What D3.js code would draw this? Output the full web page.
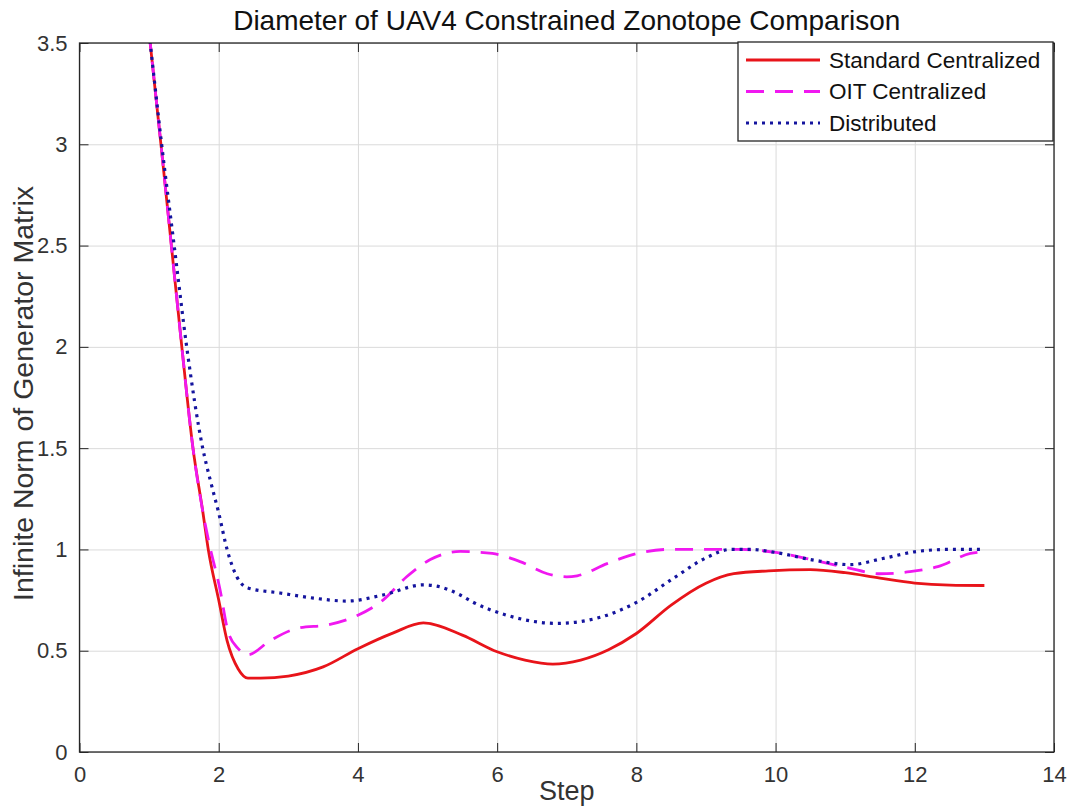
<!DOCTYPE html>
<html>
<head>
<meta charset="utf-8">
<script src="https://cdn.jsdelivr.net/npm/d3@7"></script>
<style>
  body { margin: 0; background: #ffffff; }
  svg { display: block; }
</style>
</head>
<body>
<script>
// -----------------------------
// Data
// -----------------------------

const xTicks = [0, 2, 4, 6, 8, 10, 12, 14];
const yTicks = [0, 0.5, 1, 1.5, 2, 2.5, 3, 3.5];

const seriesNames = ["Standard Centralized", "OIT Centralized", "Distributed"];

// Standard Centralized
const stdSteps = [1.0, 1.17, 1.32, 1.47, 1.63, 1.77, 1.85, 2.0, 2.12, 2.28, 2.42, 2.6, 3.0, 3.5, 4.0, 4.5, 4.94, 5.5, 6.0, 6.4, 6.8, 7.2, 7.6, 8.0, 8.5, 9.0, 9.4, 9.9, 10.5, 11.0, 11.5, 12.0, 12.5, 13.0];
const stdValues = [3.55, 3.0, 2.5, 2.0, 1.5, 1.19, 1.0, 0.75, 0.55, 0.41, 0.365, 0.365, 0.375, 0.42, 0.51, 0.587, 0.637, 0.577, 0.495, 0.454, 0.434, 0.454, 0.505, 0.585, 0.725, 0.833, 0.88, 0.894, 0.9, 0.885, 0.858, 0.834, 0.824, 0.822];

// OIT Centralized
const oitSteps = [1.0, 1.17, 1.32, 1.47, 1.63, 1.77, 1.85, 2.02, 2.13, 2.28, 2.42, 2.74, 3.12, 3.6, 4.0, 4.36, 4.7, 5.04, 5.47, 5.93, 6.33, 6.72, 7.0, 7.15, 7.58, 8.01, 8.44, 9.0, 9.5, 10.0, 10.55, 11.03, 11.5, 11.93, 12.33, 12.8, 13.0];
const oitValues = [3.55, 3.0, 2.5, 2.0, 1.5, 1.19, 1.05, 0.8, 0.6, 0.51, 0.48, 0.55, 0.61, 0.63, 0.675, 0.75, 0.865, 0.95, 0.99, 0.98, 0.94, 0.88, 0.865, 0.87, 0.93, 0.98, 1.0, 1.0, 1.0, 0.985, 0.947, 0.91, 0.88, 0.89, 0.915, 0.98, 0.99];

// Distributed
const distSteps = [1.0, 1.18, 1.36, 1.54, 1.77, 1.88, 2.0, 2.12, 2.26, 2.42, 2.88, 3.36, 3.84, 4.36, 4.94, 5.18, 5.47, 5.65, 6.14, 6.86, 7.48, 8.01, 8.53, 9.01, 9.35, 9.63, 10.0, 10.55, 11.07, 11.54, 12.03, 12.5, 13.0];
const distValues = [3.55, 3.0, 2.5, 2.0, 1.5, 1.34, 1.18, 1.0, 0.865, 0.81, 0.785, 0.76, 0.745, 0.775, 0.825, 0.815, 0.775, 0.74, 0.675, 0.635, 0.665, 0.74, 0.857, 0.96, 1.0, 1.0, 0.985, 0.947, 0.925, 0.955, 0.99, 1.0, 1.0];

// -----------------------------
// SVG Setup
// -----------------------------

const WIDTH = 1076;
const HEIGHT = 807;

const PLOT = { left: 79.5, right: 1054, top: 43, bottom: 752 };
const FONT = "'Liberation Sans', Arial, Helvetica, sans-serif";
const AXIS_COLOR = "#262626";
const TEXT_COLOR = "#333333";
const GRID_COLOR = "#dadada";
const TICK_LEN = 9;

const svg = d3.select("body")
  .append("svg")
  .attr("width", WIDTH)
  .attr("height", HEIGHT)
  .attr("viewBox", `0 0 ${WIDTH} ${HEIGHT}`)
  .style("background-color", "#ffffff");

const x = d3.scaleLinear()
  .domain([0, 14])
  .range([PLOT.left, PLOT.right]);

const y = d3.scaleLinear()
  .domain([0, 3.5])
  .range([PLOT.bottom, PLOT.top]);

const plotW = PLOT.right - PLOT.left;
const plotH = PLOT.bottom - PLOT.top;

// -----------------------------
// Grid
// -----------------------------

const gridX = svg.append("g")
  .attr("transform", `translate(0, ${PLOT.bottom})`)
  .call(d3.axisBottom(x).tickValues(xTicks).tickSize(-plotH).tickFormat(""));
gridX.select(".domain").remove();
gridX.selectAll(".tick line").attr("stroke", GRID_COLOR).attr("stroke-width", 1);

const gridY = svg.append("g")
  .attr("transform", `translate(${PLOT.left}, 0)`)
  .call(d3.axisLeft(y).tickValues(yTicks).tickSize(-plotW).tickFormat(""));
gridY.select(".domain").remove();
gridY.selectAll(".tick line").attr("stroke", GRID_COLOR).attr("stroke-width", 1);

// -----------------------------
// Lines
// -----------------------------

svg.append("defs")
  .append("clipPath")
  .attr("id", "plot-clip")
  .append("rect")
  .attr("x", PLOT.left)
  .attr("y", PLOT.top)
  .attr("width", plotW)
  .attr("height", plotH);

const series = [
  { name: seriesNames[0], steps: stdSteps, values: stdValues, color: "#e8141a", dash: null, width: 2.8 },
  { name: seriesNames[1], steps: oitSteps, values: oitValues, color: "#f018f0", dash: "18,11", width: 2.8 },
  { name: seriesNames[2], steps: distSteps, values: distValues, color: "#14149e", dash: "3,5", width: 3.2 }
];

const line = d3.line()
  .x(d => x(d[0]))
  .y(d => y(d[1]))
  .curve(d3.curveMonotoneX);

const lineGroup = svg.append("g").attr("clip-path", "url(#plot-clip)");

series.forEach(s => {
  lineGroup.append("path")
    .datum(d3.zip(s.steps, s.values))
    .attr("fill", "none")
    .attr("stroke", s.color)
    .attr("stroke-width", s.width)
    .attr("stroke-dasharray", s.dash)
    .attr("d", line);
});

// -----------------------------
// Axes (box with inward ticks)
// -----------------------------

function styleAxis(g) {
  g.select(".domain").remove();
  g.selectAll(".tick line").attr("stroke", AXIS_COLOR);
  g.selectAll(".tick text")
    .attr("fill", TEXT_COLOR)
    .style("font-family", FONT)
    .style("font-size", "22px");
}

svg.append("g")
  .attr("transform", `translate(0, ${PLOT.bottom})`)
  .call(d3.axisBottom(x).tickValues(xTicks).tickSizeInner(-TICK_LEN).tickSizeOuter(0).tickPadding(14).tickFormat(d3.format("~g")))
  .call(styleAxis);

svg.append("g")
  .attr("transform", `translate(0, ${PLOT.top})`)
  .call(d3.axisTop(x).tickValues(xTicks).tickSizeInner(-TICK_LEN).tickSizeOuter(0).tickFormat(""))
  .call(styleAxis);

svg.append("g")
  .attr("transform", `translate(${PLOT.left}, 0)`)
  .call(d3.axisLeft(y).tickValues(yTicks).tickSizeInner(-TICK_LEN).tickSizeOuter(0).tickPadding(12).tickFormat(d3.format("~g")))
  .call(styleAxis);

svg.append("g")
  .attr("transform", `translate(${PLOT.right}, 0)`)
  .call(d3.axisRight(y).tickValues(yTicks).tickSizeInner(-TICK_LEN).tickSizeOuter(0).tickFormat(""))
  .call(styleAxis);

svg.append("rect")
  .attr("x", PLOT.left)
  .attr("y", PLOT.top)
  .attr("width", plotW)
  .attr("height", plotH)
  .attr("fill", "none")
  .attr("stroke", AXIS_COLOR)
  .attr("stroke-width", 1.3);

// -----------------------------
// Titles
// -----------------------------

svg.append("text")
  .attr("x", (PLOT.left + PLOT.right) / 2)
  .attr("y", 30)
  .attr("text-anchor", "middle")
  .attr("font-family", FONT)
  .attr("font-size", 28)
  .attr("fill", "#111111")
  .text("Diameter of UAV4 Constrained Zonotope Comparison");

svg.append("text")
  .attr("x", (PLOT.left + PLOT.right) / 2)
  .attr("y", 800)
  .attr("text-anchor", "middle")
  .attr("font-family", FONT)
  .attr("font-size", 27)
  .attr("fill", TEXT_COLOR)
  .text("Step");

svg.append("text")
  .attr("transform", `translate(33, ${(PLOT.top + PLOT.bottom) / 2 - 4}) rotate(-90)`)
  .attr("text-anchor", "middle")
  .attr("font-family", FONT)
  .attr("font-size", 28.5)
  .attr("fill", TEXT_COLOR)
  .text("Infinite Norm of Generator Matrix");

// -----------------------------
// Legend
// -----------------------------

const LEGEND = { x: 738, y: 42, w: 315, h: 99 };

const legend = svg.append("g").attr("id", "legend");

legend.append("rect")
  .attr("x", LEGEND.x)
  .attr("y", LEGEND.y)
  .attr("width", LEGEND.w)
  .attr("height", LEGEND.h)
  .attr("fill", "#ffffff")
  .attr("stroke", AXIS_COLOR)
  .attr("stroke-width", 1.3);

const rowY = d3.scalePoint()
  .domain(seriesNames)
  .range([LEGEND.y + 18, LEGEND.y + 81]);

series.forEach(s => {
  const yy = rowY(s.name);
  legend.append("line")
    .attr("x1", LEGEND.x + 8)
    .attr("x2", LEGEND.x + 82)
    .attr("y1", yy)
    .attr("y2", yy)
    .attr("stroke", s.color)
    .attr("stroke-width", s.width)
    .attr("stroke-dasharray", s.dash);
  legend.append("text")
    .attr("x", LEGEND.x + 91)
    .attr("y", yy)
    .attr("dy", "0.35em")
    .attr("font-family", FONT)
    .attr("font-size", 22.5)
    .attr("fill", "#111111")
    .text(s.name);
});
</script>
</body>
</html>
